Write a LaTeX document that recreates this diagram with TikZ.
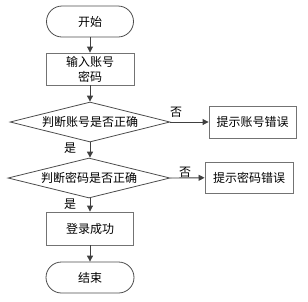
\documentclass[tikz,border=0pt]{standalone}
\usepackage{fontspec}
\setmainfont{Noto Sans CJK SC}
\usetikzlibrary{arrows.meta,shapes.geometric}

\begin{document}
\begin{tikzpicture}[x=1pt, y=-1pt, every node/.style={font=\fontsize{12}{15}\selectfont}, >={Triangle[length=6pt,width=6pt]},
	terminal/.style={draw=black!70, line width=0.8pt, rounded corners=15.5pt, minimum width=87pt, minimum height=31pt, inner sep=0pt},
	procbox/.style={draw=black!55, line width=0.9pt, minimum width=88pt, minimum height=32pt, inner sep=0pt, align=center},
	decision/.style={draw=black!70, line width=0.8pt, diamond, aspect=4, inner sep=0pt, minimum width=160pt, minimum height=40pt},
	flow/.style={->, draw=black!75, line width=0.9pt}]
	\useasboundingbox (0,0) rectangle (308,301);
	\node[terminal] (start) at (90,21.5) {开始};
	\node[procbox] (input) at (90,69) {输入账号\\密码};
	\node[decision] (chkuser) at (90,122) {判断账号是否正确};
	\node[procbox, minimum width=87pt] (usererr) at (252.5,122) {提示账号错误};
	\node[decision, minimum width=162pt] (chkpass) at (89,178) {判断密码是否正确};
	\node[procbox, minimum height=31pt] (passerr) at (249,177.5) {提示密码错误};
	\node[procbox, minimum width=87pt, minimum height=33pt] (success) at (90,228.5) {登录成功};
	\node[terminal, minimum width=88pt] (finish) at (90,277.5) {结束};
	% labels
	\node (no1) at (176,112) {否};
	\node (yes1) at (70,148) {是};
	\node (no2) at (185,172) {否};
	\node (yes2) at (70,204) {是};
	% connectors
	\draw[flow] (start) -- (input);
	\draw[flow] (input) -- (chkuser.north);
	\draw[flow] (chkuser.east) -- (usererr);
	\draw[flow] (chkuser.south) -- (chkpass.north -| chkuser.south);
	\draw[flow] (chkpass.east) -- (passerr);
	\draw[flow] (chkpass.south -| success.north) -- (success);
	\draw[flow] (success) -- (finish);
\end{tikzpicture}
\end{document}
